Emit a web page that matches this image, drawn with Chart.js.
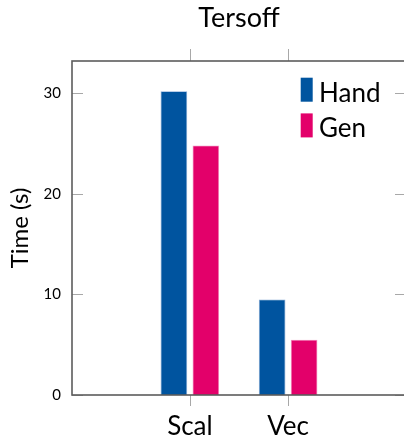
<!DOCTYPE html>
<html>
<head>
<meta charset="utf-8">
<script src="https://cdn.jsdelivr.net/npm/chart.js@4"></script>
<style>
  html, body { margin: 0; padding: 0; width: 404px; height: 439px; overflow: hidden; background: #fff; }
  canvas { display: block; }
</style>
</head>
<body>
<canvas id="c" width="408" height="439"></canvas>
<script>
// Run times of the Tersoff potential kernel, hand-written vs generated code
const categories = ['Scal', 'Vec'];
const handTimes = [30.2, 9.5];
const genTimes = [24.8, 5.5];
const yTicks = [0, 10, 20, 30];
const seriesNames = ['Hand', 'Gen'];

const FONT = 'Lato, "DejaVu Sans", sans-serif';
const BLUE = '#00549f';
const PINK = '#e3006a';

const toPoints = vals => vals.map((v, i) => ({ x: i, y: v }));

// Frame and tick marks in the pgfplots style: y ticks point inward, x ticks outward
const framePlugin = {
  id: 'frame',
  afterDatasetsDraw(chart) {
    const { ctx, chartArea: a, scales: { x, y } } = chart;
    ctx.save();
    ctx.strokeStyle = '#a8a8a8';
    ctx.lineWidth = 1;
    ctx.beginPath();
    yTicks.forEach(t => {
      const py = Math.round(y.getPixelForValue(t)) + 0.5;
      ctx.moveTo(a.left, py); ctx.lineTo(a.left + 11, py);
      ctx.moveTo(a.right, py); ctx.lineTo(a.right - 11, py);
    });
    categories.forEach((c, i) => {
      const px = Math.round(x.getPixelForValue(i)) + 0.5;
      ctx.moveTo(px, a.top); ctx.lineTo(px, a.top - 12);
      ctx.moveTo(px, a.bottom); ctx.lineTo(px, a.bottom + 11);
    });
    ctx.stroke();
    ctx.strokeStyle = '#5c5c5c';
    ctx.lineWidth = 1.6;
    ctx.strokeRect(a.left, a.top, a.right - a.left, a.bottom - a.top);
    ctx.restore();
  }
};

// Legend placed inside the plot, top-right corner
const innerLegend = {
  id: 'innerLegend',
  afterDraw(chart) {
    const { ctx, chartArea: a } = chart;
    ctx.save();
    ctx.font = '26px ' + FONT;
    ctx.textBaseline = 'alphabetic';
    ctx.textAlign = 'left';
    chart.data.datasets.forEach((ds, i) => {
      const bx = a.right - 105.3;
      const by = a.top + 16.7 + i * 35.7;
      ctx.fillStyle = ds.backgroundColor;
      ctx.fillRect(bx, by, 12, 24);
      ctx.fillStyle = '#000';
      ctx.fillText(ds.label, bx + 18.3, by + 24);
    });
    ctx.restore();
  }
};

new Chart(document.getElementById('c'), {
  type: 'bar',
  data: {
    datasets: [
      { label: seriesNames[0], data: toPoints(handTimes), backgroundColor: BLUE,
        borderColor: 'rgba(120,160,210,0.9)', borderWidth: 0.8 },
      { label: seriesNames[1], data: toPoints(genTimes), backgroundColor: PINK,
        borderColor: 'rgba(240,140,190,0.9)', borderWidth: 0.8 }
    ]
  },
  options: {
    responsive: false,
    devicePixelRatio: 1,
    animation: false,
    categoryPercentage: 0.651,
    barPercentage: 0.834,
    layout: { padding: { left: 0, right: 2, top: 0, bottom: 0 } },
    plugins: {
      legend: { display: false },
      tooltip: { enabled: false },
      title: {
        display: true,
        fullSize: false,
        text: 'Tersoff',
        color: '#000',
        font: { family: FONT, size: 27, weight: 'normal' },
        padding: { top: 2, bottom: 26.6 }
      }
    },
    scales: {
      x: {
        type: 'linear',
        offset: false,
        min: -1.2,
        max: 2.2,
        grid: { display: false, drawTicks: false, offset: false },
        border: { display: false },
        afterBuildTicks: s => { s.ticks = categories.map((c, i) => ({ value: i })); },
        afterFit: s => { s.height = 44; },
        ticks: {
          color: '#000',
          padding: 16,
          font: { family: FONT, size: 26 },
          callback: v => categories[v]
        }
      },
      y: {
        min: 0,
        max: 33.2,
        grid: { display: false, drawTicks: false },
        border: { display: false },
        afterBuildTicks: s => { s.ticks = yTicks.map(v => ({ value: v })); },
        afterFit: s => { s.width = 72; },
        ticks: {
          color: '#000',
          padding: 11,
          font: { family: FONT, size: 15 }
        },
        title: {
          display: true,
          text: 'Time (s)',
          color: '#000',
          font: { family: FONT, size: 24 },
          padding: { top: 6, bottom: 0 }
        }
      }
    }
  },
  plugins: [framePlugin, innerLegend]
});
</script>
</body>
</html>
